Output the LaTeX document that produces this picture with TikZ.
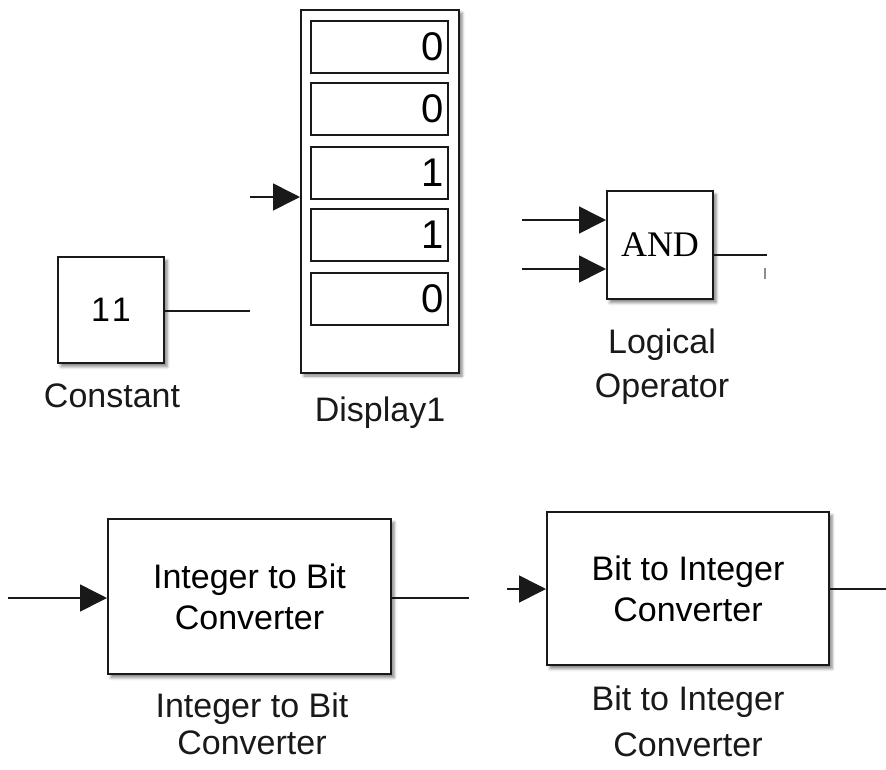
\documentclass[tikz,border=0pt]{standalone}
\usepackage{fontspec}
\setmainfont{Liberation Sans}
\newfontfamily\serifx{Liberation Serif}
\usetikzlibrary{arrows.meta,shadows.blur}
\begin{document}
\begin{tikzpicture}[x=1pt,y=-1pt,
  blk/.style={draw=black!90,line width=2pt,fill=white,inner sep=0pt,align=center,
    blur shadow={shadow xshift=3pt,shadow yshift=-3.5pt,shadow blur radius=3pt,shadow opacity=50},
    font=\fontsize{34}{41}\selectfont},
  cell/.style={draw=black!90,line width=1.5pt,fill=white,minimum width=137pt,minimum height=52pt,
    inner sep=0pt,text width=129pt,align=right,font=\fontsize{40}{40}\selectfont},
  lbl/.style={inner sep=0pt,align=center,font=\fontsize{34}{40}\selectfont,text=black!90},
  wire/.style={draw=black!90,line width=1.6pt},
  sig/.style={wire,-{Triangle[length=27pt,width=27pt]}}]
\useasboundingbox (0,0) rectangle (886,769);

% Display1
\node[blk,minimum width=158pt,minimum height=363pt] (disp) at (380,191) {};
\node[cell] (c1) at (379.5,47) {0};
\node[cell] (c2) at (379.5,109) {0};
\node[cell] (c3) at (379.5,173) {1};
\node[cell] (c4) at (379.5,235) {1};
\node[cell] (c5) at (379.5,299) {0};
\node[lbl,anchor=base] (ldisp) at (380,421) {Display1};
\coordinate (dIn) at (250,197);
\draw[sig] (dIn) -- (dIn -| disp.west);

% Constant
\node[blk,minimum width=106pt,minimum height=106pt] (const) at (111,310) {1\kern2pt1};
\node[lbl,anchor=base] (lconst) at (112,407) {Constant};
\coordinate (cOut) at (250,311);
\draw[wire] (const.east |- cOut) -- (cOut);

% Logical operator
\node[blk,minimum width=106pt,minimum height=108pt,font=\serifx\fontsize{36}{36}\selectfont] (logic) at (660,245) {AND};
\node[lbl,anchor=base,font=\fontsize{34}{44}\selectfont] (llogic) at (662,397) {Logical\\Operator};
\coordinate (lIn1) at (522,220);
\coordinate (lIn2) at (522,269);
\coordinate (lOut) at (767,255);
\draw[sig] (lIn1) -- (lIn1 -| logic.west);
\draw[sig] (lIn2) -- (lIn2 -| logic.west);
\draw[wire] (logic.east |- lOut) -- (lOut);
\draw[black!45,line width=2pt] (765,268) -- (765,279);

% Integer to Bit Converter
\node[blk,minimum width=283pt,minimum height=155pt] (i2b) at (249.5,596.5) {Integer to Bit\\Converter};
\node[lbl,anchor=base,font=\fontsize{34}{37}\selectfont] (li2b) at (252,754) {Integer to Bit\\Converter};
\coordinate (iIn) at (8,598);
\coordinate (iOut) at (469,598);
\draw[sig] (iIn) -- (iIn -| i2b.west);
\draw[wire] (i2b.east |- iOut) -- (iOut);

% Bit to Integer Converter
\node[blk,minimum width=282pt,minimum height=153pt] (b2i) at (688,588.5) {Bit to Integer\\Converter};
\node[lbl,anchor=base,font=\fontsize{34}{46}\selectfont] (lb2i) at (688,756) {Bit to Integer\\Converter};
\coordinate (bIn) at (507,589);
\coordinate (bOut) at (886,589);
\draw[sig] (bIn) -- (bIn -| b2i.west);
\draw[wire] (b2i.east |- bOut) -- (bOut);
\end{tikzpicture}
\end{document}
